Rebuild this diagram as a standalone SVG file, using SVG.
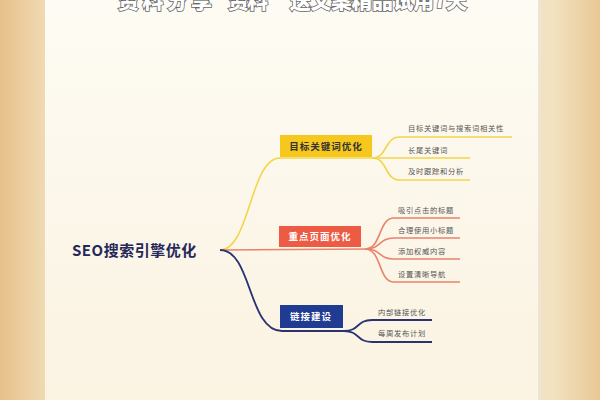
<svg xmlns="http://www.w3.org/2000/svg" width="600" height="400" viewBox="0 0 600 400">
<defs>
<linearGradient id="bg" x1="0" y1="0" x2="1" y2="0">
<stop offset="0" stop-color="#e6c08a"/>
<stop offset="0.08" stop-color="#f1dcb6"/>
<stop offset="0.92" stop-color="#f3e2c2"/>
<stop offset="1" stop-color="#e9c894"/>
</linearGradient>
<linearGradient id="card" x1="0" y1="0" x2="0" y2="1">
<stop offset="0" stop-color="#fdfbf3"/>
<stop offset="1" stop-color="#fbf3e2"/>
</linearGradient>
<style>
.root{font-family:"Noto Sans CJK SC","Noto Sans",sans-serif;font-size:15px;font-weight:700;fill:#26285a;letter-spacing:0.5px}
.nt{font-family:"Noto Sans CJK SC",sans-serif;font-size:9.5px;font-weight:700;text-anchor:middle;letter-spacing:1px}
.lf{font-family:"Noto Sans CJK SC",sans-serif;font-size:7.3px;fill:#555;letter-spacing:0.7px}
.title{font-family:"Noto Sans CJK SC",sans-serif;font-size:21px;font-weight:900;fill:#fff;stroke:#666;stroke-width:1.6px;paint-order:stroke}
.y{fill:none;stroke:#f2d54a;stroke-width:1.6}
.r{fill:none;stroke:#e9836c;stroke-width:1.6}
.b{fill:none;stroke:#28336f;stroke-width:1.8}
</style>
</defs>
<rect width="600" height="400" fill="url(#bg)"/>
<rect x="45" y="0" width="495" height="400" fill="url(#card)"/>
<rect x="538" y="0" width="3" height="400" fill="#ece4d4"/>
<g id="title">
<text class="title" x="118" y="8" textLength="94">资料分享</text>
<text class="title" x="228" y="8" textLength="40">资料</text>
<text class="title" x="290" y="8" textLength="177">送文案精品试用7天</text>
</g>

<g id="connectors">
<path class="y" d="M220,250 C250,250 250,158 280,158 L372,158"/>
<path class="r" d="M220,250 L370,249"/>
<path class="b" d="M220,250 C252,250 248,331 282,331 L344,331"/>
<path class="y" d="M372,158 C388,158 384,137 400,137 L512,137"/>
<path class="y" d="M372,158 L470,158"/>
<path class="y" d="M372,158 C388,158 384,180 400,180 L470,180"/>
<path class="r" d="M365,249 C382,249 378,218 394,218 L460,218"/>
<path class="r" d="M365,249 C382,249 378,238 394,238 L460,238"/>
<path class="r" d="M365,249 C382,249 378,259 394,259 L460,259"/>
<path class="r" d="M365,249 C382,249 378,282 394,282 L460,282"/>
<path class="b" d="M344,331 C360,331 356,320 372,320 L432,320"/>
<path class="b" d="M344,331 C360,331 356,342 372,342 L432,342"/>
</g>

<g id="root"><text class="root" x="72" y="256">SEO搜索引擎优化</text></g>

<g id="n1">
<rect x="280" y="135" width="92" height="22" fill="#f6c81e"/>
<text class="nt" x="326" y="150" fill="#333">目标关键词优化</text>
</g>
<g id="n2">
<rect x="279" y="226" width="82" height="21" fill="#ee5b45"/>
<text class="nt" x="320" y="240" fill="#fff">重点页面优化</text>
</g>
<g id="n3">
<rect x="280" y="305" width="63" height="23" fill="#1f3b92"/>
<text class="nt" x="311" y="320" fill="#fff">链接建设</text>
</g>

<g id="leaves">
<text class="lf" x="408" y="131">目标关键词与搜索词相关性</text>
<text class="lf" x="408" y="153">长尾关键词</text>
<text class="lf" x="408" y="174">及时跟踪和分析</text>
<text class="lf" x="398" y="213">吸引点击的标题</text>
<text class="lf" x="398" y="233">合理使用小标题</text>
<text class="lf" x="398" y="254">添加权威内容</text>
<text class="lf" x="398" y="277">设置清晰导航</text>
<text class="lf" x="378" y="315">内部链接优化</text>
<text class="lf" x="378" y="336">每周发布计划</text>
</g>
</svg>
